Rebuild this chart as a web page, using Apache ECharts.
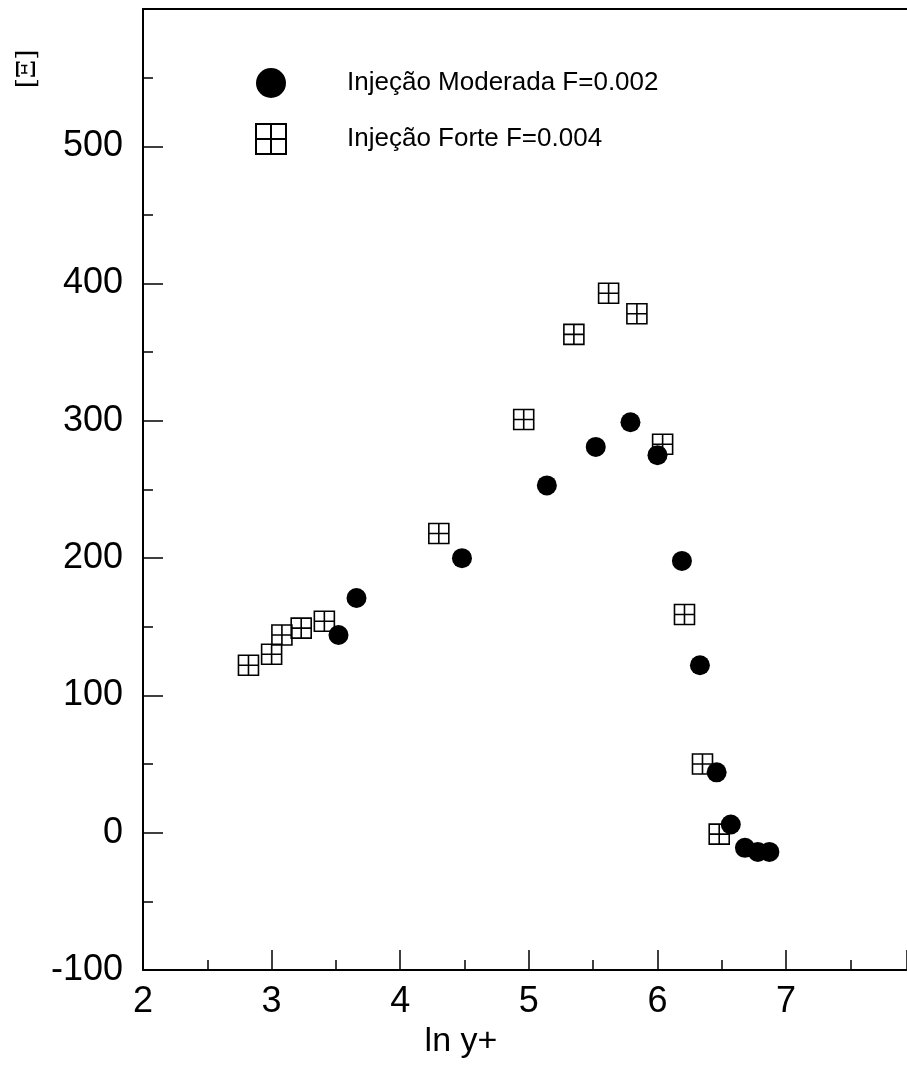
<!DOCTYPE html>
<html>
<head>
<meta charset="utf-8">
<script src="https://cdn.jsdelivr.net/npm/echarts@6/dist/echarts.min.js"></script>
<style>
html,body{margin:0;padding:0;background:#fff;}
#chart{width:907px;height:1072px;}
</style>
</head>
<body>
<div id="chart"></div>
<script>
// Data
const seriesNames = ['Injeção Moderada F=0.002', 'Injeção Forte F=0.004'];
const moderadaX = [3.52, 3.66, 4.48, 5.14, 5.52, 5.79, 6.00, 6.19, 6.33, 6.46, 6.57, 6.68, 6.78, 6.87];
const moderadaY = [144, 171, 200, 253, 281, 299, 275, 198, 122, 44, 6, -11, -14, -14];
const forteX = [2.82, 3.00, 3.08, 3.23, 3.41, 4.30, 4.96, 5.35, 5.62, 5.84, 6.04, 6.21, 6.35, 6.48];
const forteY = [122, 130, 144, 149, 154, 218, 301, 363, 393, 378, 283, 159, 50, -1];
const xAxisTitle = 'ln y+';
const yAxisTitle = '[Ξ]';

const pairs = (xs, ys) => xs.map((x, i) => [x, ys[i]]);
const squareCross = 'path://M0,0H20V20H0ZM10,0V20M0,10H20';

const chart = echarts.init(document.getElementById('chart'), null, {renderer: 'canvas'});
const axisFont = {fontFamily: 'Liberation Sans', fontSize: 36, color: '#000'};
const xMax = 7.94;

chart.setOption({
  backgroundColor: '#fff',
  animation: false,
  grid: {left: 143, right: 0, top: 9, bottom: 102},
  legend: {
    orient: 'vertical',
    left: 250,
    top: 63,
    itemWidth: 30,
    itemHeight: 30,
    itemGap: 25,
    textStyle: {fontFamily: 'Liberation Sans', fontSize: 26, color: '#000', padding: [0, 0, 0, 56]},
    data: [
      {name: seriesNames[0], icon: 'circle'},
      {name: seriesNames[1], icon: squareCross}
    ]
  },
  xAxis: [{
    type: 'value',
    min: 2, max: xMax, interval: 1,
    name: xAxisTitle,
    nameLocation: 'middle',
    nameGap: 48,
    nameTextStyle: {fontFamily: 'Liberation Sans', fontSize: 34, color: '#000', padding: [0, 128, 0, 0]},
    axisLine: {show: true, onZero: false, lineStyle: {color: '#000', width: 2}},
    axisTick: {show: true, inside: true, length: 20, lineStyle: {color: '#000', width: 1.5}},
    minorTick: {show: true, splitNumber: 2, length: 10, lineStyle: {color: '#000', width: 1.5}},
    axisLabel: Object.assign({margin: 14, showMaxLabel: false}, axisFont),
    splitLine: {show: false}
  }, {
    type: 'value',
    position: 'top',
    min: 2, max: xMax,
    axisLine: {show: true, onZero: false, lineStyle: {color: '#000', width: 2}},
    axisTick: {show: false},
    axisLabel: {show: false},
    splitLine: {show: false}
  }],
  yAxis: {
    type: 'value',
    min: -100, max: 600, interval: 100,
    axisLine: {show: true, onZero: false, lineStyle: {color: '#000', width: 2}},
    axisTick: {show: true, inside: true, length: 20, lineStyle: {color: '#000', width: 1.5}},
    minorTick: {show: true, splitNumber: 2, length: 10, lineStyle: {color: '#000', width: 1.5}},
    axisLabel: Object.assign({margin: 20, showMaxLabel: false}, axisFont),
    splitLine: {show: false}
  },
  graphic: [{
    type: 'text',
    x: 28,
    y: 69,
    rotation: Math.PI / 2,
    style: {
      text: yAxisTitle,
      font: '26px "DejaVu Serif"',
      fill: '#000',
      textAlign: 'center',
      textVerticalAlign: 'middle'
    }
  }],
  series: [{
    name: seriesNames[0],
    type: 'scatter',
    symbol: 'circle',
    symbolSize: 20,
    itemStyle: {color: '#000', opacity: 1},
    data: pairs(moderadaX, moderadaY),
    z: 3
  }, {
    name: seriesNames[1],
    type: 'scatter',
    symbol: squareCross,
    symbolSize: 20,
    itemStyle: {color: 'rgba(255,255,255,0)', borderColor: '#000', borderWidth: 1.6, opacity: 1},
    data: pairs(forteX, forteY),
    z: 2
  }]
});
</script>
</body>
</html>
